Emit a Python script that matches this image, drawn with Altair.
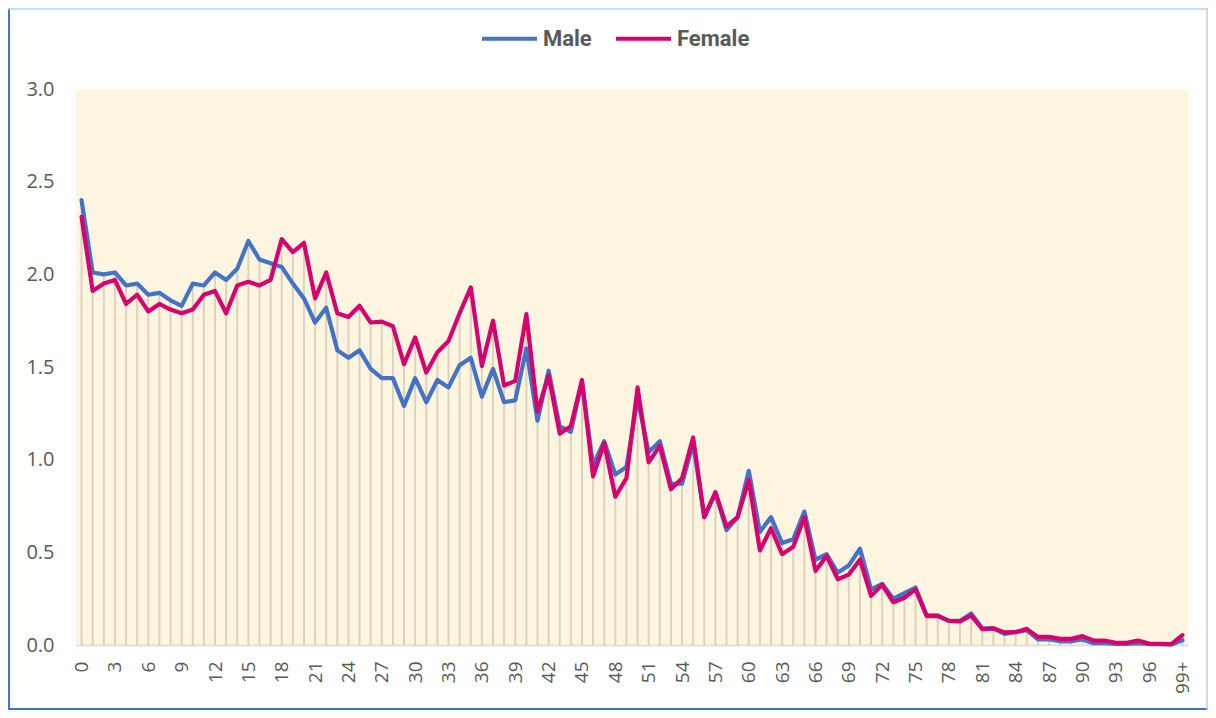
import altair as alt
import pandas as pd

ages = [str(i) for i in range(99)] + ["99+"]

male = [2.40, 2.01, 2.00, 2.01, 1.94, 1.95, 1.89, 1.90, 1.86, 1.83,
        1.95, 1.94, 2.01, 1.97, 2.03, 2.18, 2.08, 2.06, 2.04, 1.95,
        1.87, 1.74, 1.82, 1.59, 1.55, 1.59, 1.49, 1.44, 1.44, 1.29,
        1.44, 1.31, 1.43, 1.39, 1.51, 1.55, 1.34, 1.49, 1.31, 1.32,
        1.60, 1.21, 1.48, 1.18, 1.15, 1.42, 0.97, 1.10, 0.92, 0.96,
        1.33, 1.04, 1.10, 0.87, 0.87, 1.09, 0.69, 0.82, 0.62, 0.69,
        0.94, 0.61, 0.69, 0.55, 0.57, 0.72, 0.46, 0.49, 0.39, 0.43,
        0.52, 0.30, 0.33, 0.25, 0.28, 0.31, 0.16, 0.16, 0.13, 0.13,
        0.17, 0.09, 0.09, 0.06, 0.07, 0.08, 0.03, 0.03, 0.02, 0.02,
        0.03, 0.01, 0.01, 0.006, 0.006, 0.01, 0.004, 0.004, 0.003, 0.026]

female = [2.31, 1.91, 1.95, 1.97, 1.84, 1.89, 1.80, 1.84, 1.81, 1.79,
          1.81, 1.89, 1.91, 1.79, 1.94, 1.96, 1.94, 1.97, 2.19, 2.12,
          2.17, 1.87, 2.01, 1.79, 1.77, 1.83, 1.74, 1.745, 1.72, 1.515,
          1.66, 1.47, 1.58, 1.64, 1.79, 1.93, 1.505, 1.75, 1.40, 1.425,
          1.785, 1.26, 1.455, 1.14, 1.18, 1.43, 0.91, 1.09, 0.80, 0.90,
          1.39, 0.985, 1.075, 0.84, 0.90, 1.12, 0.69, 0.825, 0.64, 0.69,
          0.89, 0.51, 0.63, 0.49, 0.53, 0.69, 0.40, 0.48, 0.355, 0.38,
          0.46, 0.265, 0.325, 0.23, 0.255, 0.30, 0.156, 0.156, 0.13, 0.127,
          0.16, 0.085, 0.09, 0.068, 0.069, 0.087, 0.044, 0.044, 0.033, 0.033,
          0.048, 0.024, 0.024, 0.012, 0.012, 0.024, 0.008, 0.006, 0.005, 0.053]

series = ["Male", "Female"]
colors = ["#4472C4", "#D6006E"]
y_ticks = [0, 0.5, 1.0, 1.5, 2.0, 2.5, 3.0]

long_df = pd.DataFrame({
    "age": ages * 2,
    "value": male + female,
    "sex": ["Male"] * len(ages) + ["Female"] * len(ages),
    "order": list(range(len(ages))) * 2,
})
drop_df = pd.DataFrame({
    "age": ages,
    "top": [max(m, f) for m, f in zip(male, female)],
})

W, H = 1112, 556
PAD = {"left": 68, "top": 81, "right": 20, "bottom": 65}

xscale = alt.Scale(type="point", padding=0.5, domain=ages)
yscale = alt.Scale(domain=[0, 3])

xaxis = alt.Axis(values=ages[::3], labelAngle=270, labelFontSize=19,
                 labelFont="Open Sans", labelColor="#595959", labelPadding=16,
                 ticks=False, domainColor="#D9D9D9", domainWidth=1.5,
                 title=None, grid=False)
yaxis = alt.Axis(values=y_ticks, format=".1f", labelFontSize=20,
                 labelFont="Open Sans", labelColor="#595959", labelPadding=22,
                 ticks=False, domain=False, grid=False, title=None)

drops = alt.Chart(drop_df).mark_rule(color="#DCD3BE", strokeWidth=2).encode(
    x=alt.X("age:N", scale=xscale, axis=xaxis, sort=ages),
    y=alt.Y("top:Q", scale=yscale, axis=yaxis),
    y2=alt.datum(0),
)

lines = alt.Chart(long_df).mark_line(strokeWidth=4.2, strokeJoin="round", strokeCap="round").encode(
    x=alt.X("age:N", scale=xscale, sort=ages),
    y=alt.Y("value:Q", scale=yscale),
    color=alt.Color("sex:N", scale=alt.Scale(domain=series, range=colors),
                    sort=series,
                    legend=alt.Legend(orient="none", legendX=404, legendY=-80,
                                      direction="horizontal", title=None,
                                      symbolType="stroke", symbolSize=3025,
                                      symbolStrokeWidth=4, labelFontSize=22,
                                      labelFontWeight="bold", labelFont="Roboto",
                                      labelColor="#595959", columnPadding=16,
                                      labelOffset=4)),
    detail="sex:N",
    order="order:Q",
)

# chart border (decoration)
border_strong = alt.Chart(pd.DataFrame({"k": [0]})).mark_rule(color="#4472C4", strokeWidth=2)
left_b = border_strong.encode(x=alt.value(-PAD["left"] + 1), y=alt.value(-PAD["top"]), y2=alt.value(H + PAD["bottom"]))
bottom_b = border_strong.encode(x=alt.value(-PAD["left"]), x2=alt.value(W + PAD["right"]), y=alt.value(H + PAD["bottom"] - 1))
border_light = alt.Chart(pd.DataFrame({"k": [0]})).mark_rule(color="#BDD0EE", strokeWidth=1.5)
top_b = border_light.encode(x=alt.value(-PAD["left"]), x2=alt.value(W + PAD["right"]), y=alt.value(-PAD["top"] + 1))
right_b = border_light.encode(x=alt.value(W + PAD["right"] - 1), y=alt.value(-PAD["top"]), y2=alt.value(H + PAD["bottom"]))

chart = alt.layer(drops, lines, left_b, bottom_b, top_b, right_b).properties(
    width=W, height=H,
    autosize=alt.AutoSizeParams(type="none"),
    padding=PAD,
    background="white",
).configure_view(fill="#FEF5E0", stroke=None)

chart.save("out.html", embed_options={"renderer": "svg", "actions": False})
